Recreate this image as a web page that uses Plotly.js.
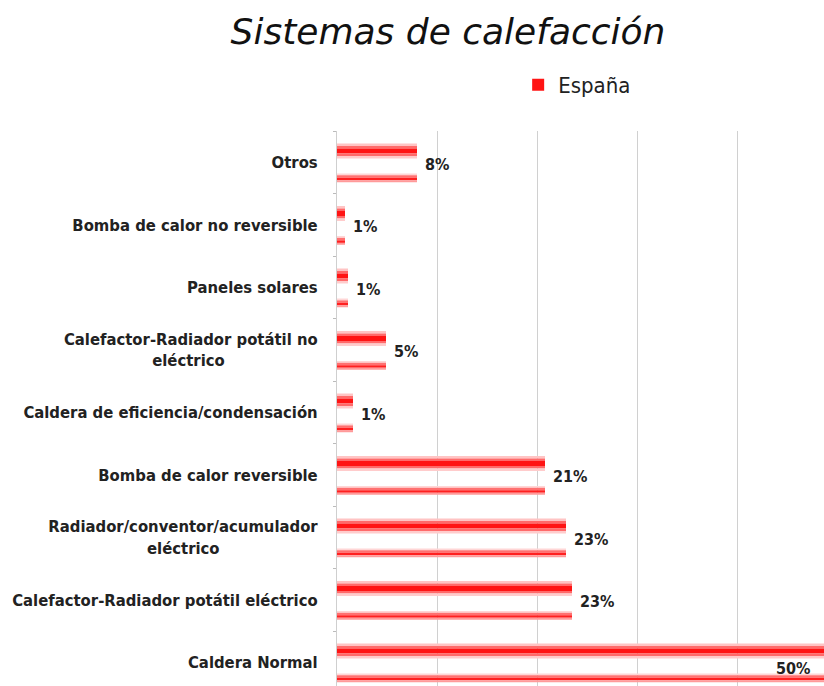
<!DOCTYPE html>
<html>
<head>
<meta charset="utf-8">
<script src="https://cdn.plot.ly/plotly-3.0.1.min.js"></script>
<style>html,body{margin:0;padding:0;background:#fff;}#chart{width:824px;height:686px;}</style>
</head>
<body>
<div id="chart"></div>
<script>
// Categories listed bottom to top
const NB = '\u00a0';
const categories = [
  'Caldera Normal',
  'Calefactor-Radiador potátil eléctrico',
  'Radiador/conventor/acumulador<br>eléctrico' + NB.repeat(19),
  'Bomba de calor reversible',
  'Caldera de eficiencia/condensación',
  'Calefactor-Radiador potátil no<br>eléctrico' + NB.repeat(18),
  'Paneles solares',
  'Bomba de calor no reversible',
  'Otros'
];
const espana = [50, 23.5, 22.9, 20.8, 1.6, 4.9, 1.1, 0.8, 8.0];
const valueLabels = ['50%', '23%', '23%', '21%', '1%', '5%', '1%', '1%', '8%'];
const seriesName = 'España';
const xRange = [0, 48.7];

// Bands that imitate the cylinder-like shading of each bar: [offset, width, color]
const bands = [
  [0.26, 0.04, '#ffc4c4'],
  [0.22, 0.04, '#ff6a6a'],
  [0.14, 0.08, '#ff1414'],
  [0.10, 0.04, '#ff6a6a'],
  [0.06, 0.04, '#ffcccc'],
  [-0.21, 0.03, '#ffd6d6'],
  [-0.25, 0.04, '#ff7070'],
  [-0.29, 0.04, '#ff2020'],
  [-0.32, 0.03, '#ff9a9a']
];

const labelFont = {family: '"DejaVu Sans Condensed", sans-serif', size: 16, color: '#222', weight: 'bold'};

const traces = bands.map((b, i) => ({
  type: 'bar',
  orientation: 'h',
  x: espana,
  y: categories,
  offset: b[0],
  width: b[1],
  marker: {color: b[2], line: {width: 0}},
  name: seriesName,
  legendgroup: 'es',
  showlegend: i === 2,
  hoverinfo: 'skip'
}));

// Labels outside the bars (the widest bar gets its label inside, via an annotation)
traces.push({
  type: 'bar',
  orientation: 'h',
  x: espana,
  y: categories,
  offset: -0.33,
  width: 0.6,
  marker: {color: 'rgba(0,0,0,0)', line: {width: 0}},
  text: valueLabels.map((t, i) => (espana[i] > xRange[1] ? '' : NB + t)),
  textposition: 'outside',
  constraintext: 'none',
  cliponaxis: false,
  textfont: labelFont,
  showlegend: false,
  hoverinfo: 'skip'
});

const annotations = [];
espana.forEach((v, i) => {
  if (v > xRange[1]) {
    annotations.push({
      x: xRange[1], y: categories[i], xref: 'x', yref: 'y',
      text: valueLabels[i], showarrow: false,
      xanchor: 'right', yanchor: 'middle', xshift: -12, yshift: -6,
      font: labelFont
    });
  }
});

const layout = {
  width: 824,
  height: 686,
  margin: {l: 337, r: 0, t: 131, b: 0},
  paper_bgcolor: '#fff',
  plot_bgcolor: '#fff',
  barmode: 'overlay',
  title: {
    text: 'Sistemas de calefacción',
    font: {family: '"DejaVu Sans", sans-serif', size: 36, color: '#111', style: 'italic'},
    x: 448/824, xanchor: 'center', xref: 'container',
    y: 1 - 31/686, yanchor: 'middle', yref: 'container'
  },
  font: {family: '"DejaVu Sans Condensed", sans-serif', color: '#222'},
  annotations: annotations,
  xaxis: {
    range: xRange,
    dtick: 10,
    showticklabels: false,
    showgrid: true,
    gridcolor: '#d0d0d0',
    gridwidth: 1,
    zeroline: false,
    showline: false,
    fixedrange: true
  },
  yaxis: {
    type: 'category',
    categoryorder: 'array',
    categoryarray: categories,
    range: [-0.38, 8.5],
    showline: true,
    linecolor: '#cfcfcf',
    linewidth: 1,
    ticks: 'outside',
    tickson: 'boundaries',
    ticklen: 3,
    tickcolor: '#bbb',
    ticklabelstandoff: 15,
    tickfont: {family: '"DejaVu Sans Condensed", sans-serif', size: 16.5, color: '#222', weight: 'bold'},
    showgrid: false,
    fixedrange: true
  },
  legend: {
    x: 0.372, xanchor: 'left',
    y: 1.083, yanchor: 'middle',
    font: {family: '"DejaVu Sans Condensed", sans-serif', size: 22, color: '#222'},
    bgcolor: 'rgba(0,0,0,0)',
    itemwidth: 30
  },
  showlegend: true
};

Plotly.newPlot('chart', traces, layout, {displayModeBar: false, staticPlot: true});
</script>
</body>
</html>
